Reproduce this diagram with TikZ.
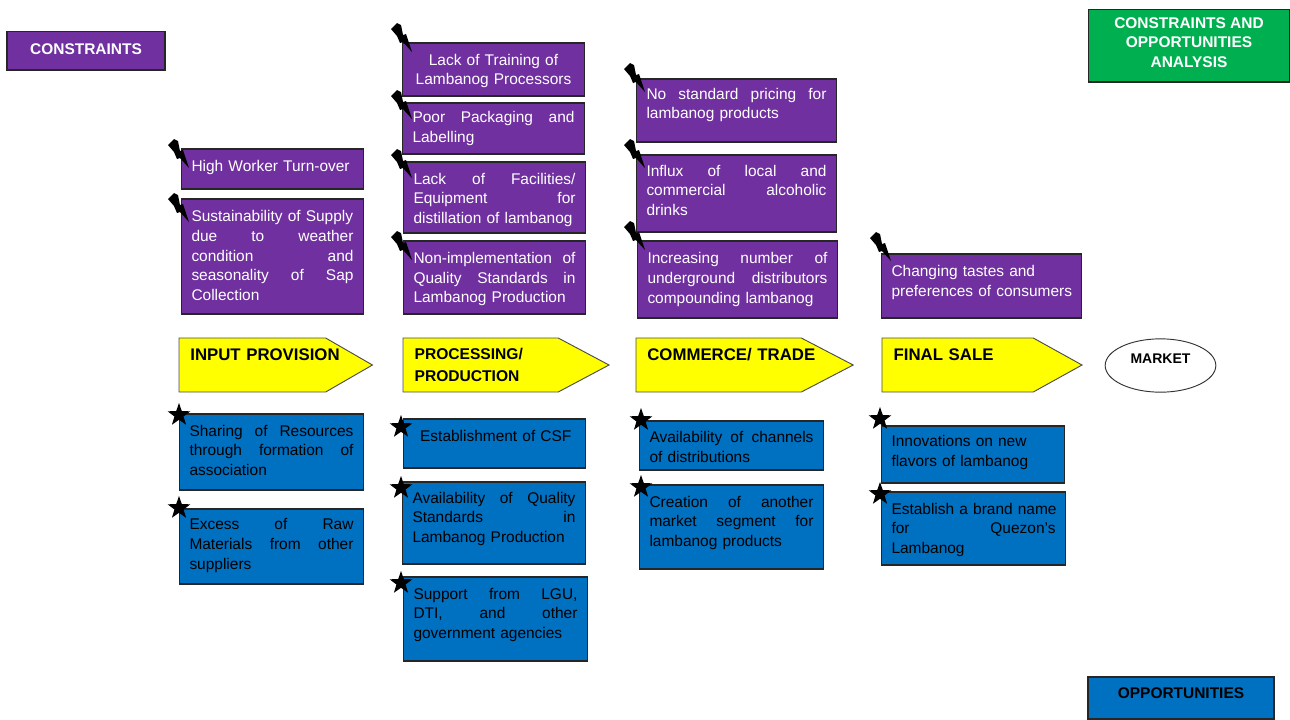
\documentclass[tikz,border=0pt]{standalone}
\usepackage{fontspec}
\setmainfont{Liberation Sans}
\usetikzlibrary{shapes.geometric,shapes.symbols}
\definecolor{cpurple}{HTML}{7030A0}
\definecolor{cblue}{HTML}{0070C0}
\definecolor{cgreen}{HTML}{00B050}
\definecolor{cyellow}{HTML}{FFFF00}
\newcommand{\hf}{\hfill}
% text sits higher (\lift, on the last line) or lower (\sink, on the first) in its box
\newcommand{\lift}[1]{\rule[-#1pt]{0pt}{#1pt}}
\newcommand{\sink}[1]{\rule{0pt}{#1pt}}
\tikzset{
  cell/.style 2 args={draw=black!85,line width=1pt,inner xsep=7.5pt,inner ysep=0pt,outer sep=0pt,align=left,
    text width=(#1-21)*0.75pt,minimum height=#2*0.75pt,font=\fontsize{11.6}{14.7}\selectfont},
  purplebox/.style={fill=cpurple,text=white},
  bluebox/.style={fill=cblue,text=black},
  headbox/.style={draw=black!85,line width=1pt,inner sep=0pt,outer sep=0pt,align=center,
    font=\fontsize{11.6}{14.8}\selectfont\bfseries},
  stagebox/.style={signal,signal to=east,draw=black!70,line width=0.7pt,fill=cyellow,
    anchor=west,minimum height=40.5pt,inner xsep=8.5pt,inner ysep=0pt,outer sep=0pt,align=left,
    font=\fontsize{12.6}{17}\selectfont\bfseries},
  starmark/.style={star,star points=5,star point ratio=2.5,fill=black,inner sep=0pt,minimum size=18pt},
  bolt/.pic={\fill[black] (-21,-23) -- (-15,-29) -- (-11,-27) -- (-9,-17) -- (-6,-18) -- (0,0) -- (-9,-10) -- (-12,-9) -- (-15,-16) -- cycle;}
}
\begin{document}
\begin{tikzpicture}[x=0.75pt,y=-0.75pt]
\useasboundingbox (0,0) rectangle (1290,719);
% title boxes
\node[headbox,fill=cpurple,text=white,minimum width=118.5pt,minimum height=29pt] (constraints) at (86,50.5) {CONSTRAINTS\lift{2}};
\node[headbox,fill=cgreen,text=white,minimum width=150.5pt,minimum height=54.5pt] (analysis) at (1189,45.5) {CONSTRAINTS AND\\OPPORTUNITIES\\ANALYSIS\lift{4.5}};
\node[headbox,fill=cblue,text=black,minimum width=139.5pt,minimum height=31.5pt] (opportunities) at (1181,698) {OPPORTUNITIES\lift{7}};
% constraints, input provision
\node[cell={183}{40},purplebox] (turnover) at (272.5,169) {High Worker Turn-over\lift{4.5}};
\node[cell={183}{115},purplebox] (supply) at (272.5,256.5) {Sustainability of Supply\\due\hf to\hf weather\\condition\hf and\\seasonality\hf of\hf Sap\\Collection\lift{1.5}};
% constraints, processing
\node[cell={183}{53},purplebox,align=center] (training) at (493.5,69.5) {\sink{10.5}Lack of Training of\\Lambanog Processors};
\node[cell={183}{51},purplebox] (packaging) at (493.5,128.5) {Poor\hf Packaging\hf and\\Labelling};
\node[cell={183}{71},purplebox] (facilities) at (494.5,197.5) {\sink{12}Lack\hf of\hf Facilities/\\Equipment\hf for\\distillation of lambanog};
\node[cell={183}{73},purplebox] (standards) at (494.5,277.5) {\sink{11}Non-implementation\hf of\\Quality\hf Standards\hf in\\Lambanog Production};
% constraints, commerce
\node[cell={201}{63},purplebox] (pricing) at (736.5,110.5) {No\hf standard\hf pricing\hf for\\lambanog products\lift{10.5}};
\node[cell={201}{77},purplebox] (influx) at (736.5,193.5) {Influx\hf of\hf local\hf and\\commercial\hf alcoholic\\drinks\lift{5}};
\node[cell={201}{77},purplebox] (underground) at (737.5,279.5) {Increasing\hf number\hf of\\underground\hf distributors\\compounding lambanog\lift{1.5}};
% constraints, final sale
\node[cell={201}{64},purplebox] (tastes) at (981.5,286) {Changing tastes and\\\mbox{preferences of consumers}\lift{7.5}};
% value chain
\node[stagebox,signal pointer angle=60,minimum width=144.75pt,text width=93pt] (input) at (179,365) {\mbox{INPUT PROVISION}\lift{15}};
\node[stagebox,signal pointer angle=56,minimum width=154.5pt,text width=99pt,font=\fontsize{11.7}{17}\selectfont\bfseries] (processing) at (403,365) {PROCESSING/\\PRODUCTION};
\node[stagebox,signal pointer angle=55,minimum width=162.75pt,text width=107pt] (commerce) at (636,365) {\mbox{COMMERCE/ TRADE}\lift{16}};
\node[stagebox,signal pointer angle=58,minimum width=150pt,text width=96pt] (sale) at (882,365) {FINAL SALE\lift{15}};
\node[draw=black!80,line width=0.7pt,ellipse,fill=white,minimum width=83pt,minimum height=40pt,inner sep=0pt,
  font=\fontsize{10.5}{12}\selectfont\bfseries] (market) at (1160.5,365.5) {MARKET\lift{10.5}};
% opportunities, input provision
\node[cell={185}{76},bluebox] (sharing) at (271.5,452) {Sharing\hf of\hf Resources\\through\hf formation\hf of\\association\lift{3}};
\node[cell={185}{75},bluebox] (excess) at (271.5,546.5) {Excess\hf of\hf Raw\\Materials\hf from\hf other\\suppliers\lift{4}};
% opportunities, processing
\node[cell={183}{49},bluebox] (csf) at (494.5,443.5) {\hspace*{5pt}Establishment of CSF\lift{12}};
\node[cell={184}{82},bluebox] (quality) at (494,523) {Availability\hf of\hf Quality\\Standards\hf in\\Lambanog Production\lift{9}};
\node[cell={185}{84},bluebox] (support) at (495.5,619) {Support\hf from\hf LGU,\\DTI,\hf and\hf other\\government agencies\lift{8.5}};
% opportunities, commerce
\node[cell={185}{49},bluebox] (channels) at (731.5,445.5) {\sink{11}Availability\hf of\hf channels\\of distributions};
\node[cell={185}{84},bluebox] (segment) at (731.5,527) {Creation\hf of\hf another\\market\hf segment\hf for\\lambanog products\lift{9}};
% opportunities, final sale
\node[cell={184}{57},bluebox] (flavors) at (973,454.5) {Innovations on new\\flavors of lambanog\lift{5.5}};
\node[cell={185}{73},bluebox] (brand) at (973.5,528.5) {\sink{10.5}\mbox{Establish a brand name}\\for\hf Quezon's\\Lambanog};
% bolts on the constraints
\pic at (189,168) {bolt};
\pic at (189,222) {bolt};
\pic at (412,52) {bolt};
\pic at (412,119) {bolt};
\pic at (412,178) {bolt};
\pic at (412,260) {bolt};
\pic at (645,92) {bolt};
\pic at (645,168) {bolt};
\pic at (645,250) {bolt};
\pic at (891,261) {bolt};
% stars on the opportunities
\node[starmark] (star1) at (179,415) {};
\node[starmark] (star2) at (179,508) {};
\node[starmark] (star3) at (401,427) {};
\node[starmark] (star4) at (401,488) {};
\node[starmark] (star5) at (401,583) {};
\node[starmark] (star6) at (641,420) {};
\node[starmark] (star7) at (641,487) {};
\node[starmark] (star8) at (880,419) {};
\node[starmark] (star9) at (880,494) {};
\end{tikzpicture}
\end{document}
